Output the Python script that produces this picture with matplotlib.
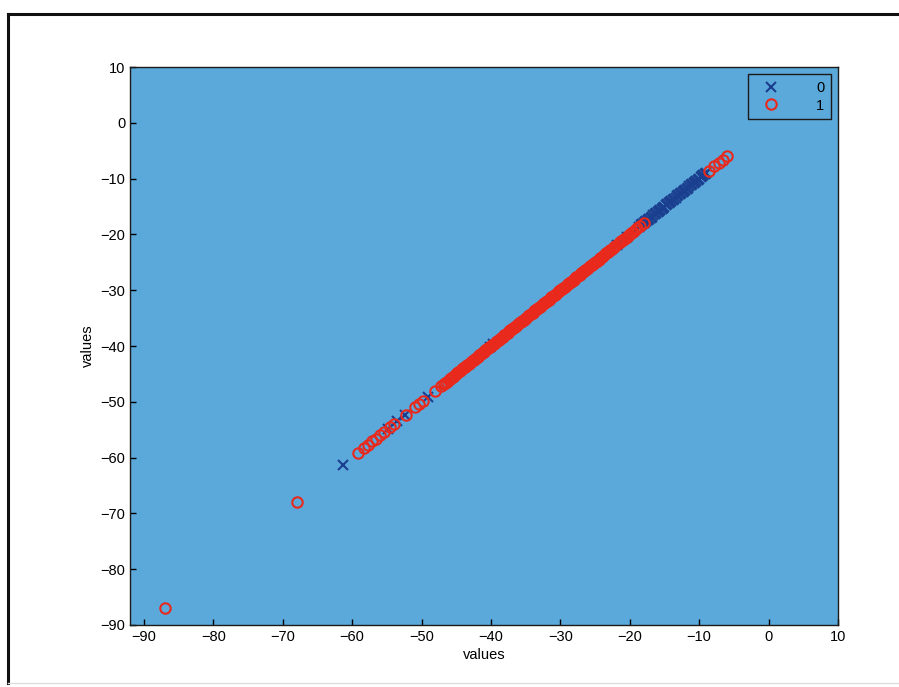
import matplotlib
matplotlib.use("Agg")
import matplotlib.pyplot as plt
from matplotlib.lines import Line2D

plt.rcParams['font.family'] = ['Liberation Sans', 'DejaVu Sans']

# class 0 (blue crosses) — points lie on the diagonal, x == y
class0_x = [-61.3, -54.8, -53.5, -52.4, -49.1, -40.1, -39.7, -21.9, -20.4,
            -18.6, -18.4, -18.2, -18.0, -17.8, -17.6, -17.4, -17.2, -17.0,
            -16.8, -16.6, -16.4, -16.2, -16.0, -15.8, -15.6, -15.4, -15.2,
            -15.0, -14.8, -14.6, -14.4, -14.2, -14.0, -13.8, -13.6, -13.4,
            -13.2, -13.0, -12.8, -12.6, -12.4, -12.2, -12.0, -11.8, -11.6,
            -11.4, -11.2, -11.0, -10.8, -10.6, -10.4, -10.2, -10.0, -9.8,
            -9.6, -9.4, -9.2, -9.0]
class0_y = list(class0_x)

# class 1 (red circles)
class1_x = [-87.0, -68.0,
            -59.2, -58.3, -57.7, -57.1, -56.6, -56.0, -55.4, -54.6, -53.9,
            -52.3, -51.0, -50.4, -49.8, -48.1, -47.2,
            -46.8, -46.6, -46.4, -46.1, -45.9, -45.7, -45.5, -45.3, -45.1,
            -44.9, -44.7, -44.4, -44.2, -44.0, -43.8, -43.6, -43.4, -43.2,
            -43.0, -42.7, -42.5, -42.3, -42.1, -41.9, -41.7, -41.5, -41.3,
            -41.0, -40.8, -40.6, -40.4, -40.2, -40.0, -39.8, -39.6, -39.3,
            -39.1, -38.9, -38.7, -38.5, -38.3, -38.1, -37.9, -37.6, -37.4,
            -37.2, -37.0, -36.8, -36.6, -36.4, -36.2, -35.9, -35.7, -35.5,
            -35.3, -35.1, -34.9, -34.7, -34.5, -34.2, -34.0, -33.8, -33.6,
            -33.4, -33.2, -33.0, -32.8, -32.5, -32.3, -32.1, -31.9, -31.7,
            -31.5, -31.3, -31.1, -30.8, -30.6, -30.4, -30.2, -30.0, -29.8,
            -29.6, -29.4, -29.1, -28.9, -28.7, -28.5, -28.3, -28.1, -27.9,
            -27.7, -27.4, -27.2, -27.0, -26.8, -26.6, -26.4, -26.2, -26.0,
            -25.7, -25.5, -25.3, -25.1, -24.9, -24.7, -24.5, -24.3, -24.0,
            -23.8, -23.6, -23.4, -23.2, -23.0, -22.8, -22.6, -22.3, -22.1,
            -21.6, -21.4, -21.2, -21.0, -20.8, -20.6, -20.3, -20.1, -19.8,
            -19.5, -19.2, -18.9, -18.5, -18.0,
            -8.6, -7.8, -7.2, -6.6, -6.0]
class1_y = list(class1_x)

labels = ['0', '1']
x_ticks = [-90, -80, -70, -60, -50, -40, -30, -20, -10, 0, 10]
y_ticks = [-90, -80, -70, -60, -50, -40, -30, -20, -10, 0, 10]

bg = '#5ba8da'
blue = '#1b3f8f'
red = '#e8291c'

fig = plt.figure(figsize=(8.99, 6.87), dpi=100)
fig.patch.set_facecolor('white')

# scanned-page frame
fig.add_artist(Line2D([8/899, 1.0], [1 - 14/687, 1 - 14/687], color='#111111', lw=2.2, transform=fig.transFigure))
fig.add_artist(Line2D([8/899, 8/899], [1 - 683/687, 1 - 14/687], color='#111111', lw=2.2, transform=fig.transFigure))
fig.add_artist(Line2D([8/899, 1.0], [1 - 683/687, 1 - 683/687], color='#dddddd', lw=1.0, transform=fig.transFigure))

ax = fig.add_axes([130/899, 1 - 625/687, (838 - 130)/899, (625 - 67)/687])
ax.set_facecolor(bg)

ax.plot(class0_x, class0_y, linestyle='none', marker='x', color=blue,
        markersize=7, markeredgewidth=1.5, label=labels[0])
ax.plot(class1_x, class1_y, linestyle='none', marker='o', markerfacecolor='none',
        markeredgecolor=red, markersize=7.5, markeredgewidth=1.5, label=labels[1])

ax.set_xlim(-92, 10)
ax.set_ylim(-90, 10)
ax.set_xticks(x_ticks)
ax.set_yticks(y_ticks)
ax.tick_params(direction='in', length=4, width=1, labelsize=10.5, top=False, right=False)
for s in ax.spines.values():
    s.set_color('#1a1a1a')
    s.set_linewidth(1.0)

ax.set_xlabel('values', fontsize=10.5, labelpad=3)
ax.set_ylabel('values', fontsize=10.5, labelpad=4)

leg = ax.legend(loc='upper right', frameon=True, fancybox=False, fontsize=10.5,
                markerfirst=True, handletextpad=2.0, borderpad=0.45,
                labelspacing=0.25, borderaxespad=0.5, handlelength=2.2)
leg.get_frame().set_edgecolor('#1a1a1a')
leg.get_frame().set_facecolor(bg)
leg.get_frame().set_alpha(1)
leg.get_frame().set_linewidth(1.0)

fig.savefig('out.png', dpi=100, facecolor='white')
